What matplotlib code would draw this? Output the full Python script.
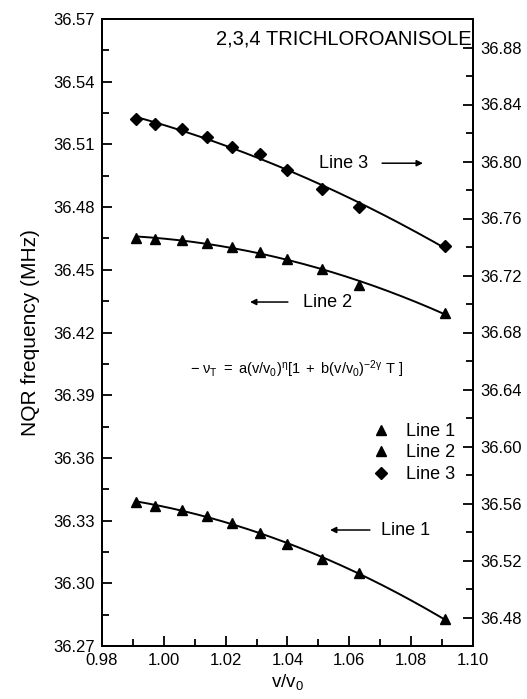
import numpy as np
import matplotlib
matplotlib.use("Agg")
import matplotlib.pyplot as plt
from matplotlib.ticker import MultipleLocator, FormatStrFormatter

plt.rcParams['font.family'] = ['Liberation Sans', 'DejaVu Sans']
plt.rcParams['mathtext.fontset'] = 'custom'
plt.rcParams['mathtext.rm'] = 'Liberation Sans'
plt.rcParams['mathtext.it'] = 'Liberation Sans'
plt.rcParams['mathtext.bf'] = 'Liberation Sans:bold'

# ---- data ----
x_ratio = [0.991, 0.997, 1.006, 1.014, 1.022, 1.031, 1.040, 1.051, 1.063, 1.091]
line1 = [36.3388, 36.3372, 36.3349, 36.3324, 36.3290, 36.3242, 36.3188, 36.3116, 36.3048, 36.2828]
line2 = [36.4654, 36.4649, 36.4643, 36.4630, 36.4608, 36.4584, 36.4552, 36.4502, 36.4427, 36.4295]
line3 = [36.8298, 36.8263, 36.8228, 36.8170, 36.8104, 36.8053, 36.7940, 36.7807, 36.7683, 36.7410]

title_text = "2,3,4 TRICHLOROANISOLE"
formula = r"$-\ \nu_{\mathrm{T}}\ =\ \mathrm{a(v/v_0)^{\eta}[1\ +\ b(v/v_0)^{-2\gamma}\ T\ ]}$"

x = np.array(x_ratio)
xf = np.linspace(x.min(), x.max(), 200)

fig = plt.figure(figsize=(5.27, 6.99), dpi=100)
ax = fig.add_axes([102/527, 1-646/699, 371/527, 627/699])
ax2 = ax.twinx()

def fit(y):
    c = np.polyfit(x, np.array(y), 2)
    return np.polyval(c, xf)

ax.plot(xf, fit(line1), color='black', lw=1.4)
ax.plot(xf, fit(line2), color='black', lw=1.4)
h1, = ax.plot(x, line1, '^', color='black', ms=7, ls='none')
h2, = ax.plot(x, line2, '^', color='black', ms=7, ls='none')
ax2.plot(xf, fit(line3), color='black', lw=1.4)
h3, = ax2.plot(x, line3, 'D', color='black', ms=6.3, ls='none')

ax.set_xlim(0.98, 1.10)
ax.set_ylim(36.27, 36.57)
ax2.set_ylim(36.46, 36.90)

ax.xaxis.set_major_locator(MultipleLocator(0.02))
ax.xaxis.set_minor_locator(MultipleLocator(0.01))
ax.yaxis.set_major_locator(MultipleLocator(0.03))
ax.yaxis.set_minor_locator(MultipleLocator(0.015))
ax2.yaxis.set_major_locator(MultipleLocator(0.04))
ax2.yaxis.set_minor_locator(MultipleLocator(0.02))
ax.xaxis.set_major_formatter(FormatStrFormatter('%.2f'))
ax.yaxis.set_major_formatter(FormatStrFormatter('%.2f'))
ax2.yaxis.set_major_formatter(FormatStrFormatter('%.2f'))

for a in (ax, ax2):
    for s in a.spines.values():
        s.set_linewidth(1.4)
ax.tick_params(which='both', direction='in', top=False, right=False, width=1.3, labelsize=12, pad=5)
ax.tick_params(which='major', length=7)
ax.tick_params(which='minor', length=5)
ax2.tick_params(which='both', direction='in', left=False, right=True, width=1.3, labelsize=12, pad=5)
ax2.tick_params(which='major', length=7)
ax2.tick_params(which='minor', length=5)

ax.set_ylabel("NQR frequency (MHz)", fontsize=15, labelpad=10)
ax.set_xlabel(r"v/v$_{\mathrm{0}}$", fontsize=13.5, labelpad=3)

ax.text(0.995, 0.968, title_text, transform=ax.transAxes, ha='right', va='center', fontsize=14.5)
ax.text(0.523, 0.442, formula, transform=ax.transAxes, ha='center', va='center', fontsize=10.5)

arrow = dict(arrowstyle='-|>', lw=1.1, color='black', mutation_scale=9, shrinkA=0, shrinkB=0)
ax.text(0.650, 0.770, "Line 3", transform=ax.transAxes, ha='center', va='center', fontsize=13)
ax.annotate("", xy=(0.865, 0.770), xytext=(0.755, 0.770), xycoords='axes fraction', arrowprops=arrow)
ax.text(0.608, 0.5486, "Line 2", transform=ax.transAxes, ha='center', va='center', fontsize=13)
ax.annotate("", xy=(0.399, 0.5486), xytext=(0.501, 0.5486), xycoords='axes fraction', arrowprops=arrow)
ax.text(0.819, 0.185, "Line 1", transform=ax.transAxes, ha='center', va='center', fontsize=13)
ax.annotate("", xy=(0.6146, 0.185), xytext=(0.722, 0.185), xycoords='axes fraction', arrowprops=arrow)

leg = ax2.legend([h1, h2, h3], ["Line 1", "Line 2", "Line 3"], loc='center left',
                 bbox_to_anchor=(0.728, 0.308), bbox_transform=ax.transAxes, frameon=False,
                 fontsize=13, handlelength=1.0, handletextpad=0.9, borderpad=0, borderaxespad=0,
                 labelspacing=0.25)

fig.savefig("out.png", dpi=100)
